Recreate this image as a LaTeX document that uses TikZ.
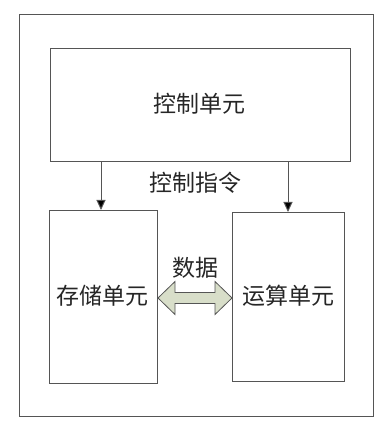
\documentclass[tikz,border=0pt]{standalone}
\usepackage{fontspec}
\newfontfamily\cjk{Noto Sans CJK SC}
\usetikzlibrary{arrows.meta,calc}
\definecolor{linegray}{RGB}{85,85,85}
\definecolor{arrowfill}{RGB}{216,222,201}
\tikzset{
  box/.style={draw=linegray, line width=1pt, rectangle, anchor=south west, inner sep=0pt},
  lbl/.style={font=\cjk\fontsize{23}{25}\selectfont, text=black!85, inner sep=0pt},
  ctl/.style={draw=linegray, line width=1pt, -{Triangle[width=9pt,length=10pt,fill=black]}},
  dataarrow/.style={draw=linegray, line width=0.8pt, fill=arrowfill, line join=miter},
}
\begin{document}
\begin{tikzpicture}[x=1pt,y=1pt]
\useasboundingbox (0,0) rectangle (388,431);
\node[box, minimum width=354pt, minimum height=402pt] (frame) at (19,14) {};
\node[box, minimum width=300pt, minimum height=113pt] (ctrl) at (50,269) {};
\node[box, minimum width=108pt, minimum height=173pt] (mem) at (49,47) {};
\node[box, minimum width=112pt, minimum height=169pt] (alu) at (232,49) {};
\node[lbl] (ctrltxt) at (199,327) {控制单元};
\node[lbl] (cmdtxt) at (195,248) {控制指令};
\node[lbl] (memtxt) at (102,135) {存储单元};
\node[lbl] (alutxt) at (288,135) {运算单元};
\node[lbl] (datatxt) at (195,163) {数据};
\coordinate (c1) at (101,269);
\coordinate (c2) at (288,269);
\draw[ctl] (c1) -- (c1 |- mem.north);
\draw[ctl] (c2) -- (c2 |- alu.north);
\coordinate (ltip) at (mem.east |- 0,133);
\coordinate (rtip) at (alu.west |- 0,133);
\draw[dataarrow] (ltip) -- ++(17,16.5) -- ++(0,-11) -- ($(rtip)+(-17,5.5)$) -- ++(0,11)
  -- (rtip) -- ++(-17,-16.5) -- ++(0,11) -- ($(ltip)+(17,-5.5)$) -- ++(0,-11) -- cycle;
\end{tikzpicture}
\end{document}
